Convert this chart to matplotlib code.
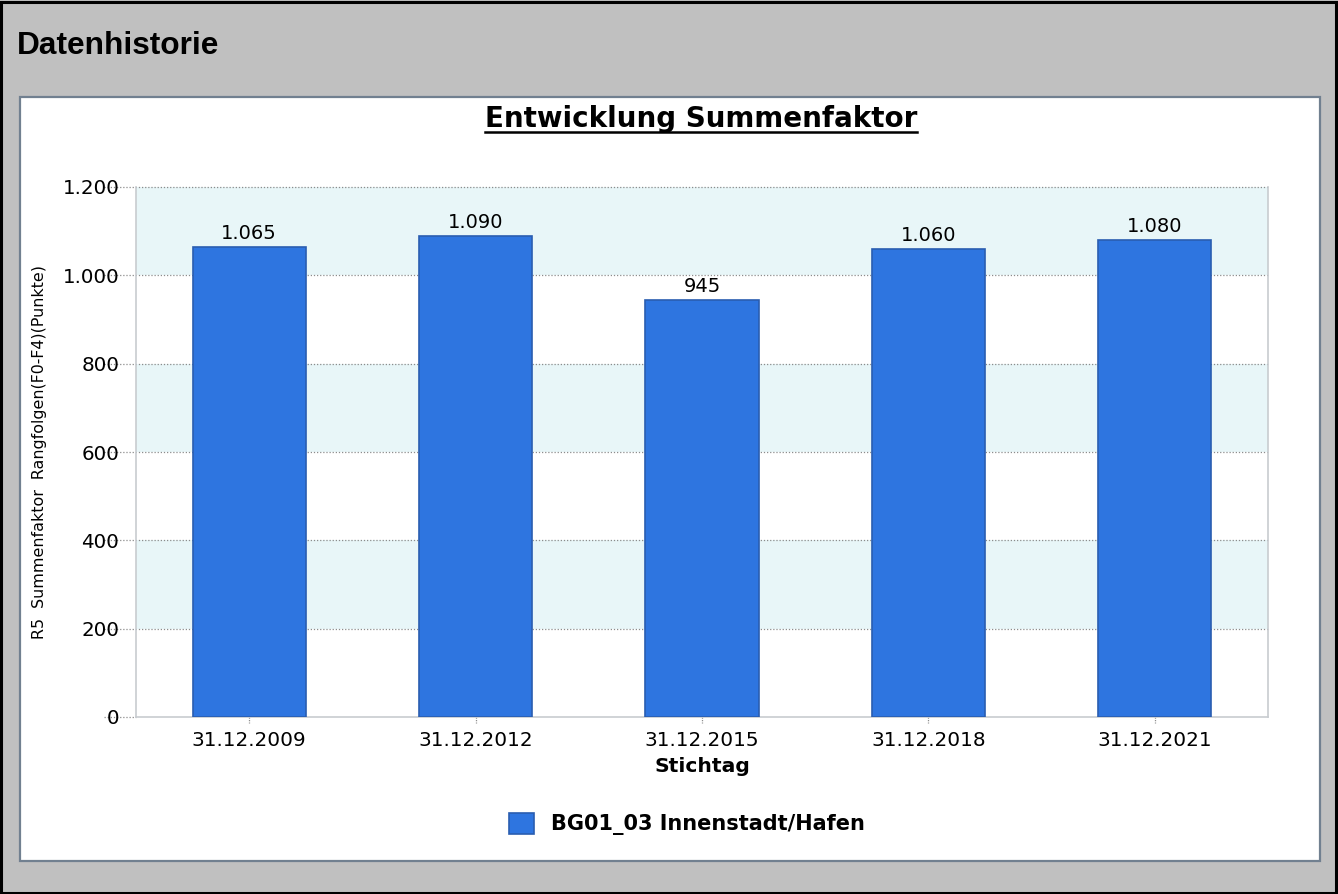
import matplotlib
matplotlib.use("Agg")
import matplotlib.pyplot as plt
from matplotlib.patches import Rectangle
from matplotlib.lines import Line2D

stichtage = ["31.12.2009", "31.12.2012", "31.12.2015", "31.12.2018", "31.12.2021"]
summenfaktor = [1065, 1090, 945, 1060, 1080]
y_ticks = [0, 200, 400, 600, 800, 1000, 1200]
series_name = "BG01_03 Innenstadt/Hafen"


def de_fmt(v):
    # German thousands separator
    return f"{int(v):,}".replace(",", ".")


W, H = 1338, 894
fig = plt.figure(figsize=(W / 100, H / 100), dpi=100)
fig.patch.set_facecolor("#C0C0C0")

# outer frame and white chart panel
fig.add_artist(Rectangle((1 / W, 1 / H), (W - 3) / W, (H - 3) / H, transform=fig.transFigure,
                         fill=False, edgecolor="black", linewidth=2.2))
fig.add_artist(Rectangle((20 / W, (H - 861) / H), 1300 / W, 764 / H, transform=fig.transFigure,
                         facecolor="white", edgecolor="#718090", linewidth=1.6, zorder=0))

fig.text(17 / W, 1 - 46 / H, "Datenhistorie", fontsize=22.8, fontweight="bold",
         family="Liberation Sans", va="center", ha="left")

title = fig.text(701 / W, 1 - 127 / H, "Entwicklung Summenfaktor", fontsize=20, fontweight="bold",
                 family="DejaVu Sans", va="baseline", ha="center")

ax = fig.add_axes([136 / W, (H - 717) / H, 1132 / W, 530 / H])
ax.set_facecolor("white")

# alternating horizontal bands
for i in range(len(y_ticks) - 1):
    if i % 2 == 1:
        ax.axhspan(y_ticks[i], y_ticks[i + 1], color="#E8F6F8", zorder=0, linewidth=0)

x = list(range(len(stichtage)))
bars = ax.bar(x, summenfaktor, width=0.5, color="#2E75E0", edgecolor="#2A5DB0", linewidth=1.2, zorder=3,
              label=series_name)

for xi, v in zip(x, summenfaktor):
    ax.text(xi, v + 8, de_fmt(v), ha="center", va="bottom", fontsize=14, zorder=4)

ax.set_xlim(-0.5, 4.5)
ax.set_ylim(0, 1200)
ax.set_yticks(y_ticks)
ax.set_yticklabels([de_fmt(t) for t in y_ticks], fontsize=14.3)
ax.set_xticks(x)
ax.set_xticklabels(stichtage, fontsize=14.4)
ax.tick_params(axis="y", length=0, pad=12)
ax.tick_params(axis="x", length=0, pad=10)

# dotted grid lines, extended a little left of the axis
ytr = ax.get_yaxis_transform()
for t in y_ticks[1:]:
    ax.add_line(Line2D([-0.028, 1], [t, t], transform=ytr, color="#8C8C8C", linestyle=(0, (1, 1.5)),
                       linewidth=0.9, clip_on=False, zorder=1))
ax.add_line(Line2D([-0.028, 0], [0, 0], transform=ytr, color="#8C8C8C", linestyle=(0, (1, 1.5)),
                   linewidth=0.9, clip_on=False, zorder=1))

# small dotted tick marks below the x axis
xtr = ax.get_xaxis_transform()
for xi in x:
    ax.add_line(Line2D([xi, xi], [0, -0.012], transform=xtr, color="#8C8C8C", linestyle=(0, (1, 1)),
                       linewidth=0.9, clip_on=False))

for side in ["left", "bottom", "right"]:
    ax.spines[side].set_color("#C8CCD0")
    ax.spines[side].set_linewidth(1.2)
ax.spines["top"].set_visible(False)

ax.set_xlabel("Stichtag", fontsize=14.6, fontweight="bold", labelpad=5)
fig.text(40 / W, 1 - 452 / H, "R5  Summenfaktor  Rangfolgen(F0-F4)(Punkte)", rotation=90,
         fontsize=11.4, ha="center", va="center", family="DejaVu Sans")

fig.legend(handles=[bars], labels=[series_name], loc="center", bbox_to_anchor=(687 / W, 1 - 824 / H),
           frameon=False, prop={"size": 15, "weight": "bold"}, handlelength=1.2, handleheight=1.2,
           handletextpad=0.8)

# underline for the title
fig.canvas.draw()
bb = title.get_window_extent()
fig.add_artist(Line2D([bb.x0 / W, bb.x1 / W], [(H - 132) / H, (H - 132) / H], transform=fig.transFigure,
                      color="black", linewidth=1.8))

fig.savefig("out.png", dpi=100, facecolor=fig.get_facecolor())
